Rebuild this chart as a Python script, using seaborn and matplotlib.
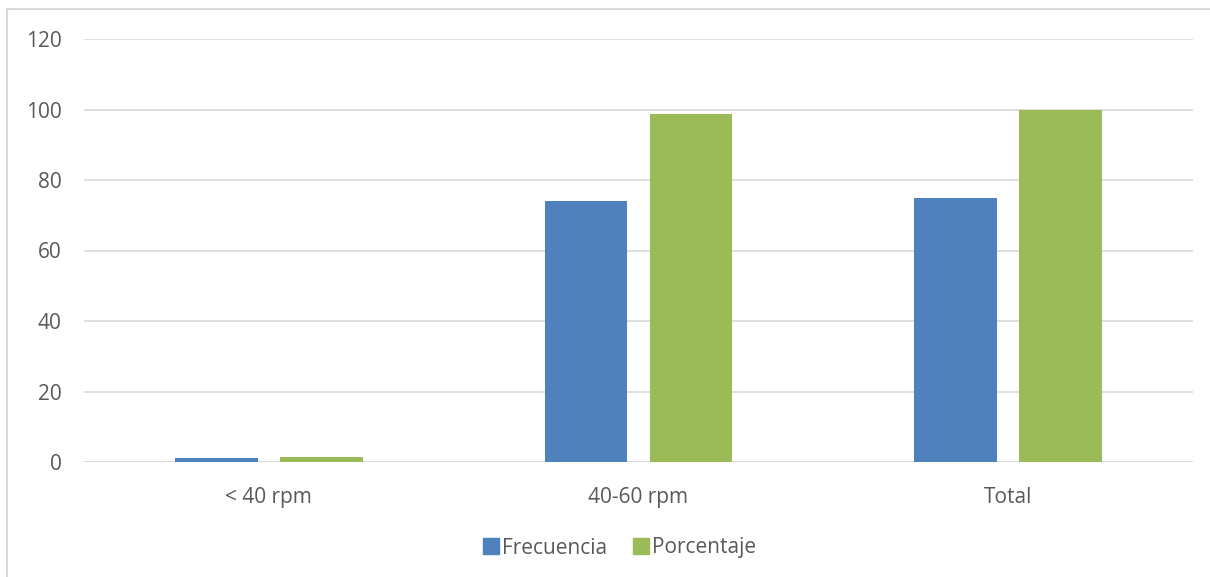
import matplotlib
matplotlib.use("Agg")
import matplotlib.pyplot as plt
from matplotlib.patches import Rectangle
from matplotlib.lines import Line2D
import seaborn as sns
import pandas as pd

categories = ["< 40 rpm", "40-60 rpm", "Total"]
frecuencia = [1, 74, 75]
porcentaje = [1.3, 98.7, 100]
series_names = ["Frecuencia", "Porcentaje"]
y_ticks = [0, 20, 40, 60, 80, 100, 120]

colors = ["#4F81BD", "#9BBB59"]
text_color = "#595959"
grid_color = "#D9D9D9"

df = pd.DataFrame({
    "categoria": categories * 2,
    "valor": frecuencia + porcentaje,
    "serie": [series_names[0]] * 3 + [series_names[1]] * 3,
})

sns.set_theme(style="white")
plt.rcParams["font.family"] = ["Open Sans", "DejaVu Sans"]

fig = plt.figure(figsize=(12.1, 5.77), dpi=100)
ax = fig.add_axes([84 / 1210, 1 - 462 / 577, (1193 - 84) / 1210, (462 - 39) / 577])

sns.barplot(data=df, x="categoria", y="valor", hue="serie", order=categories,
            hue_order=series_names, palette=colors, width=0.568, gap=0.21,
            saturation=1, linewidth=0, ax=ax, legend=False)

ax.set_ylim(0, 120)
ax.set_yticks(y_ticks)
ax.set_yticklabels([str(t) for t in y_ticks])
ax.set_xlabel("")
ax.set_ylabel("")
ax.grid(axis="y", color=grid_color, linewidth=1.2)
ax.set_axisbelow(True)
for s in ax.spines.values():
    s.set_visible(False)
ax.axhline(0, color=grid_color, linewidth=1.2, zorder=0.5)
ax.tick_params(axis="both", length=0, colors=text_color, labelsize=15)
ax.tick_params(axis="y", pad=16)
ax.tick_params(axis="x", pad=18)

handles = [Line2D([0], [0], marker="s", linestyle="none", markersize=11,
                  markerfacecolor=c, markeredgecolor=c) for c in colors]
fig.legend(handles, series_names, loc="center", bbox_to_anchor=(0.512, 1 - 548 / 577),
           ncol=2, frameon=False, fontsize=15, labelcolor=text_color,
           handletextpad=0.15, columnspacing=1.2, handlelength=0.8)

# light outer frame (left and top edges visible)
fig.patches.append(Rectangle((7 / 1210, -0.05), 1.2, 1 - 9 / 577 + 0.05,
                             transform=fig.transFigure, fill=False,
                             edgecolor=grid_color, linewidth=1.5, zorder=0))

fig.savefig("out.png", dpi=100)
